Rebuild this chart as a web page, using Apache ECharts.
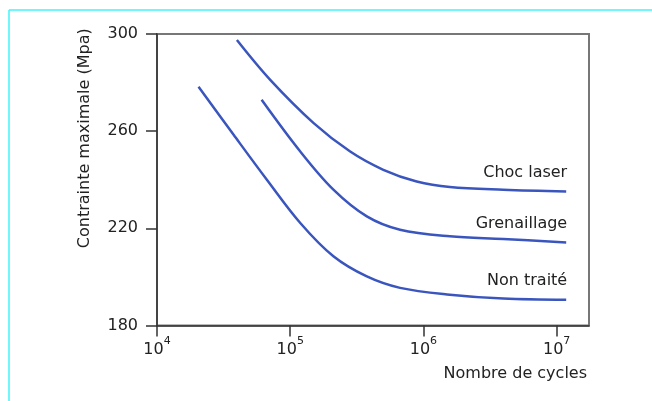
<!DOCTYPE html>
<html>
<head>
<meta charset="utf-8">
<script src="https://cdn.jsdelivr.net/npm/echarts@6/dist/echarts.min.js"></script>
<style>
html,body{margin:0;padding:0;background:#fff;}
#chart{width:652px;height:401px;}
</style>
</head>
<body>
<div id="chart"></div>
<script>
// Values (x = number of cycles, y = max stress in MPa)
const seriesNames = ['Choc laser', 'Grenaillage', 'Non traité'];
const chocLaserCycles = [3.98e4, 7.08e4, 1.50e5, 2.82e5, 5.0e5, 8.9e5, 1.58e6, 3.98e6, 1.18e7];
const chocLaserStress = [297.5, 281.1, 263.3, 251.6, 244.1, 239.3, 237.0, 235.9, 235.2];
const grenaillageCycles = [6.1e4, 1.19e5, 2.11e5, 3.76e5, 6.68e5, 1.58e6, 3.98e6, 1.18e7];
const grenaillageStress = [272.9, 251.6, 235.9, 224.9, 219.4, 216.7, 215.6, 214.2];
const nonTraiteCycles = [2.05e4, 3.76e4, 6.68e4, 1.19e5, 2.11e5, 3.76e5, 6.68e5, 1.58e6, 3.98e6, 1.18e7];
const nonTraiteStress = [278.3, 258.5, 240.0, 222.2, 208.5, 200.2, 195.5, 192.7, 191.1, 190.6];
const xTickValues = [1e4, 1e5, 1e6, 1e7];
const yTickValues = [180, 220, 260, 300];
const xAxisName = 'Nombre de cycles';
const yAxisName = 'Contrainte maximale (Mpa)';

const FONT = 'DejaVu Sans';
const TXT = '#222';
function pairs(xs, ys){ return xs.map((x,i)=>[x, ys[i]]); }
const allData = [
  pairs(chocLaserCycles, chocLaserStress),
  pairs(grenaillageCycles, grenaillageStress),
  pairs(nonTraiteCycles, nonTraiteStress)
];

const chart = echarts.init(document.getElementById('chart'), null, {renderer:'canvas'});
chart.setOption({
  animation: false,
  backgroundColor: '#fff',
  graphic: [
    {type:'line', shape:{x1:9, y1:10, x2:652, y2:10}, style:{stroke:'#40f4fa', lineWidth:1.5}, silent:true},
    {type:'line', shape:{x1:9, y1:10, x2:9, y2:401}, style:{stroke:'#40f4fa', lineWidth:1.5}, silent:true}
  ],
  grid: {left:157, right:63, top:34, bottom:75.5, show:true, borderColor:'#777', borderWidth:2, backgroundColor:'transparent'},
  xAxis: {
    type:'log', logBase:10, min:1e4, max:1.75e7,
    name: xAxisName, nameLocation:'end', nameGap:-2,
    nameTextStyle:{fontFamily:FONT, fontSize:16, color:TXT, align:'right', verticalAlign:'top', padding:[40,0,0,0]},
    axisLine:{show:true, lineStyle:{color:'#333', width:1.5}},
    axisTick:{show:true, inside:false, length:11, customValues:xTickValues, lineStyle:{color:'#333', width:1.5}},
    axisLabel:{show:true, margin:10, customValues:xTickValues, color:TXT,
      formatter: v => '{a|10}{b|' + Math.round(Math.log10(v)) + '}',
      rich:{
        a:{fontFamily:FONT, fontSize:16, lineHeight:22, color:TXT, verticalAlign:'bottom'},
        b:{fontFamily:FONT, fontSize:11, lineHeight:11, color:TXT, verticalAlign:'top'}
      }},
    splitLine:{show:false}, minorTick:{show:false}, minorSplitLine:{show:false}
  },
  yAxis: {
    type:'value', min:180, max:300, interval:40,
    name: yAxisName, nameLocation:'middle', nameRotate:90, nameGap:64,
    nameTextStyle:{fontFamily:FONT, fontSize:16, color:TXT, padding:[0,0,0,83]},
    axisLine:{show:true, lineStyle:{color:'#333', width:1.5}},
    axisTick:{show:true, inside:false, length:11, customValues:yTickValues, lineStyle:{color:'#333', width:1.5}},
    axisLabel:{show:true, margin:19, customValues:yTickValues, fontFamily:FONT, fontSize:16, color:TXT},
    splitLine:{show:false}
  },
  series: seriesNames.map((name, i) => ({
    type:'line', name: name, data: allData[i],
    smooth: 0.35, showSymbol:false, symbol:'none',
    lineStyle:{color:'#3a56be', width:2.5},
    itemStyle:{color:'#3a56be'},
    endLabel:{show:true, formatter:'{a}', distance:0, align:'right', verticalAlign:'middle',
      offset:[1,-19], fontFamily:FONT, fontSize:16, color:TXT},
    emphasis:{disabled:true}
  }))
});
</script>
</body>
</html>
